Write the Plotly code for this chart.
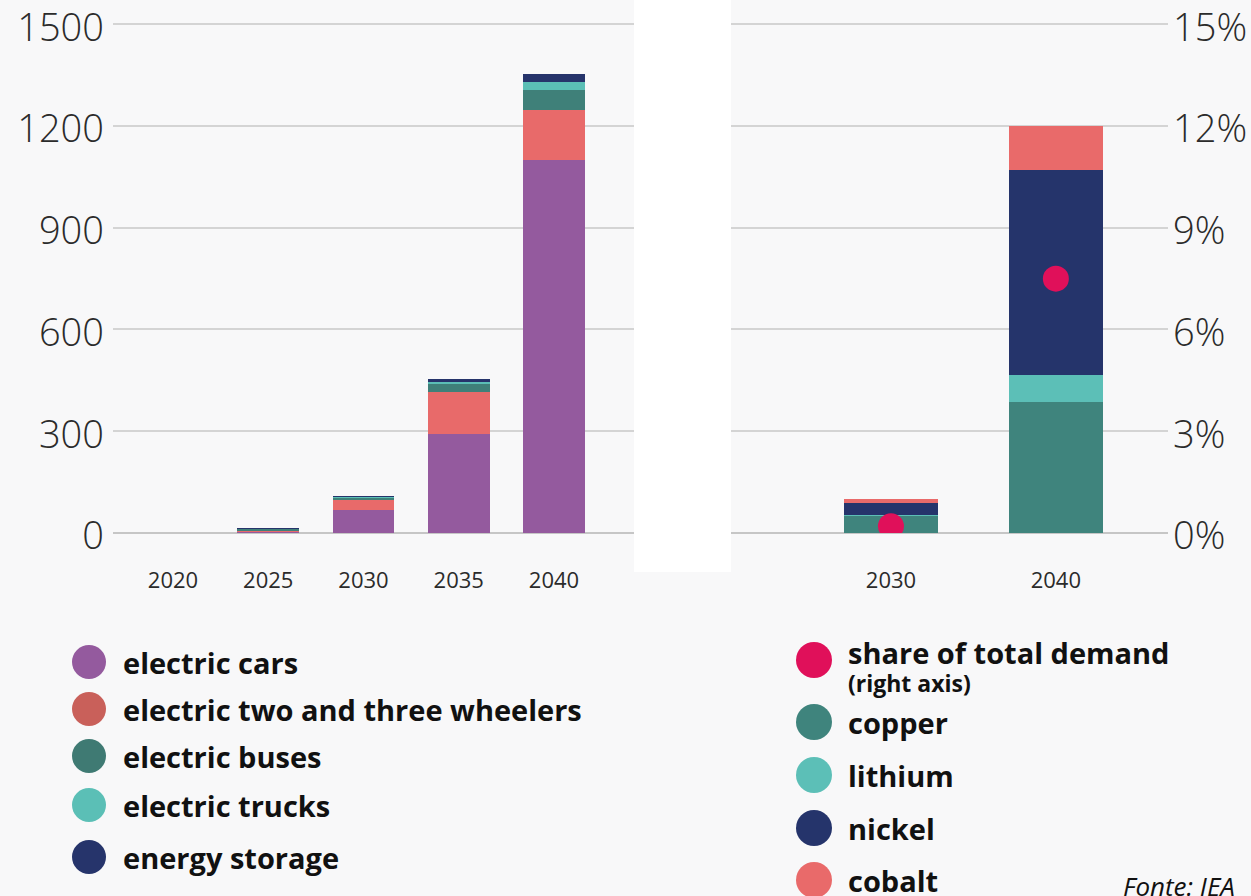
"""Mineral demand from EVs and storage -- two stacked bar panels with share dots."""

import plotly.graph_objects as go

W, H = 1251, 896

# left panel: demand by end use
years_left = ["2020", "2025", "2030", "2035", "2040"]
electric_cars = [0, 5, 68, 292, 1100]
two_three_wheelers = [0, 4, 29, 124, 148]
electric_buses = [0, 4, 8, 24, 59]
electric_trucks = [0, 1, 2, 6, 24]
energy_storage = [0, 1, 2, 8, 23]

# right panel: demand by mineral
years_right = ["2030", "2040"]
copper = [51, 387]
lithium = [1, 79]
nickel = [37, 605]
cobalt = [10, 129]
share_of_demand = [0.2, 7.5]

left_ticks = [0, 300, 600, 900, 1200, 1500]
right_ticks = [0, 3, 6, 9, 12, 15]
right_labels = [f"{v}%" for v in right_ticks]

FONT = "Open Sans"
TXT = "#2b2b2b"
GRID = "#d4d4d4"


def px(x):
    return x / W


def py(y):
    return 1 - y / H


fig = go.Figure()

left_series = [
    ("electric cars", electric_cars, "#945a9e"),
    ("electric two and three wheelers", two_three_wheelers, "#e86a6a"),
    ("electric buses", electric_buses, "#3f8079"),
    ("electric trucks", electric_trucks, "#5bbfb6"),
    ("energy storage", energy_storage, "#26346b"),
]
for name, vals, col in left_series:
    fig.add_trace(go.Bar(x=years_left, y=vals, name=name, marker_color=col,
                         marker_line_width=0, width=0.65,
                         xaxis="x", yaxis="y", showlegend=False))

right_series = [
    ("copper", copper, "#3f847d"),
    ("lithium", lithium, "#5cbfb7"),
    ("nickel", nickel, "#25346b"),
    ("cobalt", cobalt, "#e96a6a"),
]
for name, vals, col in right_series:
    fig.add_trace(go.Bar(x=years_right, y=vals, name=name, marker_color=col,
                         marker_line_width=0, width=0.57,
                         xaxis="x2", yaxis="y2", showlegend=False))

fig.add_trace(go.Scatter(x=years_right, y=share_of_demand, mode="markers",
                         name="share of total demand",
                         marker=dict(color="#e0105a", size=26),
                         xaxis="x2", yaxis="y3", showlegend=False))

# 0 at y=533px, 1200 at y=126px; top of range a bit above 1500 so its grid shows
scale = (533 - 126) / 1200
ytop = 1510
ydom = [py(533), py(533 - ytop * scale)]
axis_font = dict(family=FONT, size=38, color=TXT, weight=300)
xfont = dict(family=FONT, size=22, color=TXT)

yaxis_common = dict(domain=ydom, showgrid=True, gridcolor=GRID, gridwidth=1.5,
                    zeroline=True, zerolinecolor="#c6c6c6", zerolinewidth=2,
                    showline=False, automargin=False)

fig.update_layout(
    width=W, height=H,
    margin=dict(l=0, r=0, t=0, b=0, autoexpand=False),
    paper_bgcolor="#f8f8f9",
    plot_bgcolor="rgba(0,0,0,0)",
    barmode="stack",
    font=dict(family=FONT, color=TXT),
    xaxis=dict(domain=[px(113), px(634)], range=[-0.63, 4.84],
               showgrid=False, zeroline=False, showline=False,
               tickfont=xfont, ticklabelstandoff=32, automargin=False),
    yaxis=dict(range=[0, ytop], tickvals=left_ticks, tickfont=axis_font,
               ticklabelstandoff=8, ticklabeloverflow="allow", anchor="x",
               ticklabelshift=3, **yaxis_common),
    xaxis2=dict(domain=[px(731), px(1168)], range=[-0.97, 1.68],
                showgrid=False, zeroline=False, showline=False,
                tickfont=xfont, ticklabelstandoff=32, anchor="y2",
                automargin=False),
    yaxis2=dict(range=[0, ytop], tickvals=left_ticks, showticklabels=False,
                anchor="x2", **yaxis_common),
    yaxis3=dict(overlaying="y2", side="right", anchor="x2",
                range=[0, ytop / 100], tickvals=right_ticks,
                ticktext=right_labels, ticklabeloverflow="allow",
                showgrid=False, zeroline=False, showline=False,
                tickfont=axis_font, ticklabelstandoff=4, ticklabelshift=3,
                automargin=False),
)

# white gap between the panels
shapes = [
    dict(type="rect", xref="paper", yref="paper", x0=px(634), x1=px(731),
         y0=py(572), y1=1, fillcolor="white", line_width=0, layer="below"),
]

annotations = []


def legend_item(cx, cy, color, label, d=34, size=29):
    r = d / 2
    shapes.append(dict(type="circle", xref="paper", yref="paper",
                       x0=px(cx - r), x1=px(cx + r),
                       y0=py(cy + r), y1=py(cy - r),
                       fillcolor=color, line_width=0))
    annotations.append(dict(xref="paper", yref="paper", x=px(cx + 32),
                            y=py(cy), xanchor="left", yanchor="middle",
                            text="<b>" + label + "</b>", showarrow=False,
                            font=dict(family=FONT, size=size, color="#111111")))


left_legend = [
    ("electric cars", "#945a9e", 662),
    ("electric two and three wheelers", "#c9605a", 709),
    ("electric buses", "#3f7a73", 756),
    ("electric trucks", "#5bbfb6", 805),
    ("energy storage", "#26346b", 857),
]
for label, col, cy in left_legend:
    legend_item(89, cy, col, label)

right_legend = [
    ("copper", "#3f847d", 722),
    ("lithium", "#5cbfb7", 775),
    ("nickel", "#25346b", 828),
    ("cobalt", "#e96a6a", 880),
]
for label, col, cy in right_legend:
    legend_item(814, cy, col, label, d=36)

# share of total demand entry with its sub-label
legend_item(814, 660, "#e0105a", "share of total demand", d=36)
annotations[-1]["y"] = py(652)
annotations.append(dict(xref="paper", yref="paper", x=px(846), y=py(683),
                        xanchor="left", yanchor="middle",
                        text="<b>(right axis)</b>", showarrow=False,
                        font=dict(family=FONT, size=23, color="#111111")))

annotations.append(dict(xref="paper", yref="paper", x=px(1237), y=py(886),
                        xanchor="right", yanchor="middle",
                        text="<i>Fonte: IEA</i>", showarrow=False,
                        font=dict(family=FONT, size=26, color="#111111")))

fig.update_layout(shapes=shapes, annotations=annotations)

fig.write_html(
    "out.html",
    config={"displayModeBar": False},
    post_script="document.body.style.margin='0';"
                "document.body.style.overflow='hidden';",
)
